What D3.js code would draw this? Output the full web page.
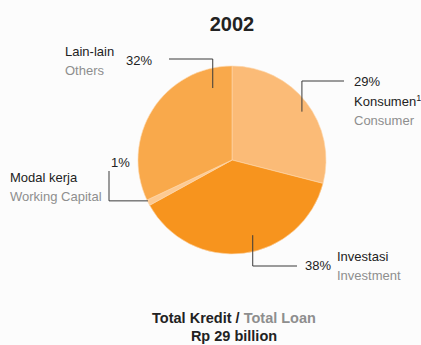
<!DOCTYPE html>
<html>
<head>
<meta charset="utf-8">
<script src="https://cdn.jsdelivr.net/npm/d3@7"></script>
<style>
  html, body { margin: 0; padding: 0; background: #fcfcfc; }
  svg { display: block; font-family: "Liberation Sans", Arial, Helvetica, sans-serif; }
</style>
</head>
<body>
<svg id="chart" width="421" height="345"></svg>
<script>
// Loan composition, 2002 (percent of total)
const year = "2002";
const categories = ["Konsumen", "Investasi", "Modal kerja", "Lain-lain"];
const categoriesEn = ["Consumer", "Investment", "Working Capital", "Others"];
const shares = [29, 38, 1, 32];
const colors = ["#fbbb77", "#f7941e", "#fdca92", "#f9a94b"];
const totalLabel = ["Total Kredit / ", "Total Loan"];
const totalValue = "Rp 29 billion";

const svg = d3.select("#chart");
const cx = 232, cy = 160, radius = 94;

const pie = d3.pie().sort(null).value(d => d);
const arcs = pie(shares);
const arc = d3.arc().innerRadius(0).outerRadius(radius);

const g = svg.append("g").attr("transform", `translate(${cx},${cy})`);
g.selectAll("path.slice")
  .data(arcs)
  .enter().append("path")
  .attr("class", "slice")
  .attr("d", arc)
  .attr("fill", (d, i) => colors[i])
  .attr("stroke", "#fdd7ab")
  .attr("stroke-width", 0.6);

// Title
svg.append("text")
  .attr("x", cx).attr("y", 31)
  .attr("text-anchor", "middle")
  .attr("font-size", 20).attr("font-weight", "bold")
  .attr("fill", "#222")
  .text(year);

// Leader layout: where the line leaves the slice (fraction of the slice span, radius),
// the elbow and end of the line, and where the labels sit.
const layout = [
  { t: 0.53, r: 85, elbowY: 81, endX: 344, pct: [354, 86], name: [354, 106], en: [354, 125], sup: true },
  { t: 0.44, r: 78, elbowY: 266, endX: 297, pct: [305, 270], name: [337, 261], en: [337, 280] },
  { t: 0.8, r: 93.5, horiz: true, elbowX: 109, endY: 171, pct: [111, 167], name: [10, 182], en: [10, 201] },
  { t: 0.87, r: 74.5, elbowY: 59, endX: 169, pct: [126, 65], name: [65, 56], en: [65, 75] }
];

arcs.forEach((a, i) => {
  const L = layout[i];
  const ang = a.startAngle + (a.endAngle - a.startAngle) * L.t;
  const sx = cx + L.r * Math.sin(ang);
  const sy = cy - L.r * Math.cos(ang);
  const pts = L.horiz
    ? [[sx, sy], [L.elbowX, sy], [L.elbowX, L.endY]]
    : [[sx, sy], [sx, L.elbowY], [L.endX, L.elbowY]];
  svg.append("path")
    .attr("d", d3.line()(pts))
    .attr("fill", "none")
    .attr("stroke", "#3a3a3a")
    .attr("stroke-width", 1);

  svg.append("text")
    .attr("x", L.pct[0]).attr("y", L.pct[1])
    .attr("font-size", 13).attr("fill", "#222")
    .text(shares[i] + "%");

  const nm = svg.append("text")
    .attr("x", L.name[0]).attr("y", L.name[1])
    .attr("font-size", 13).attr("fill", "#222")
    .text(categories[i]);
  if (L.sup) {
    nm.append("tspan").attr("font-size", 9).attr("dy", -5).text("1");
  }

  svg.append("text")
    .attr("x", L.en[0]).attr("y", L.en[1])
    .attr("font-size", 13).attr("fill", "#8e8e8e")
    .text(categoriesEn[i]);
});

// Total
const tot = svg.append("text")
  .attr("x", 234).attr("y", 323)
  .attr("text-anchor", "middle")
  .attr("font-size", 14.5).attr("font-weight", "bold")
  .attr("fill", "#222");
tot.append("tspan").text(totalLabel[0]);
tot.append("tspan").attr("fill", "#8e8e8e").text(totalLabel[1]);

svg.append("text")
  .attr("x", 234).attr("y", 341)
  .attr("text-anchor", "middle")
  .attr("font-size", 14.5).attr("font-weight", "bold")
  .attr("fill", "#222")
  .text(totalValue);
</script>
</body>
</html>
